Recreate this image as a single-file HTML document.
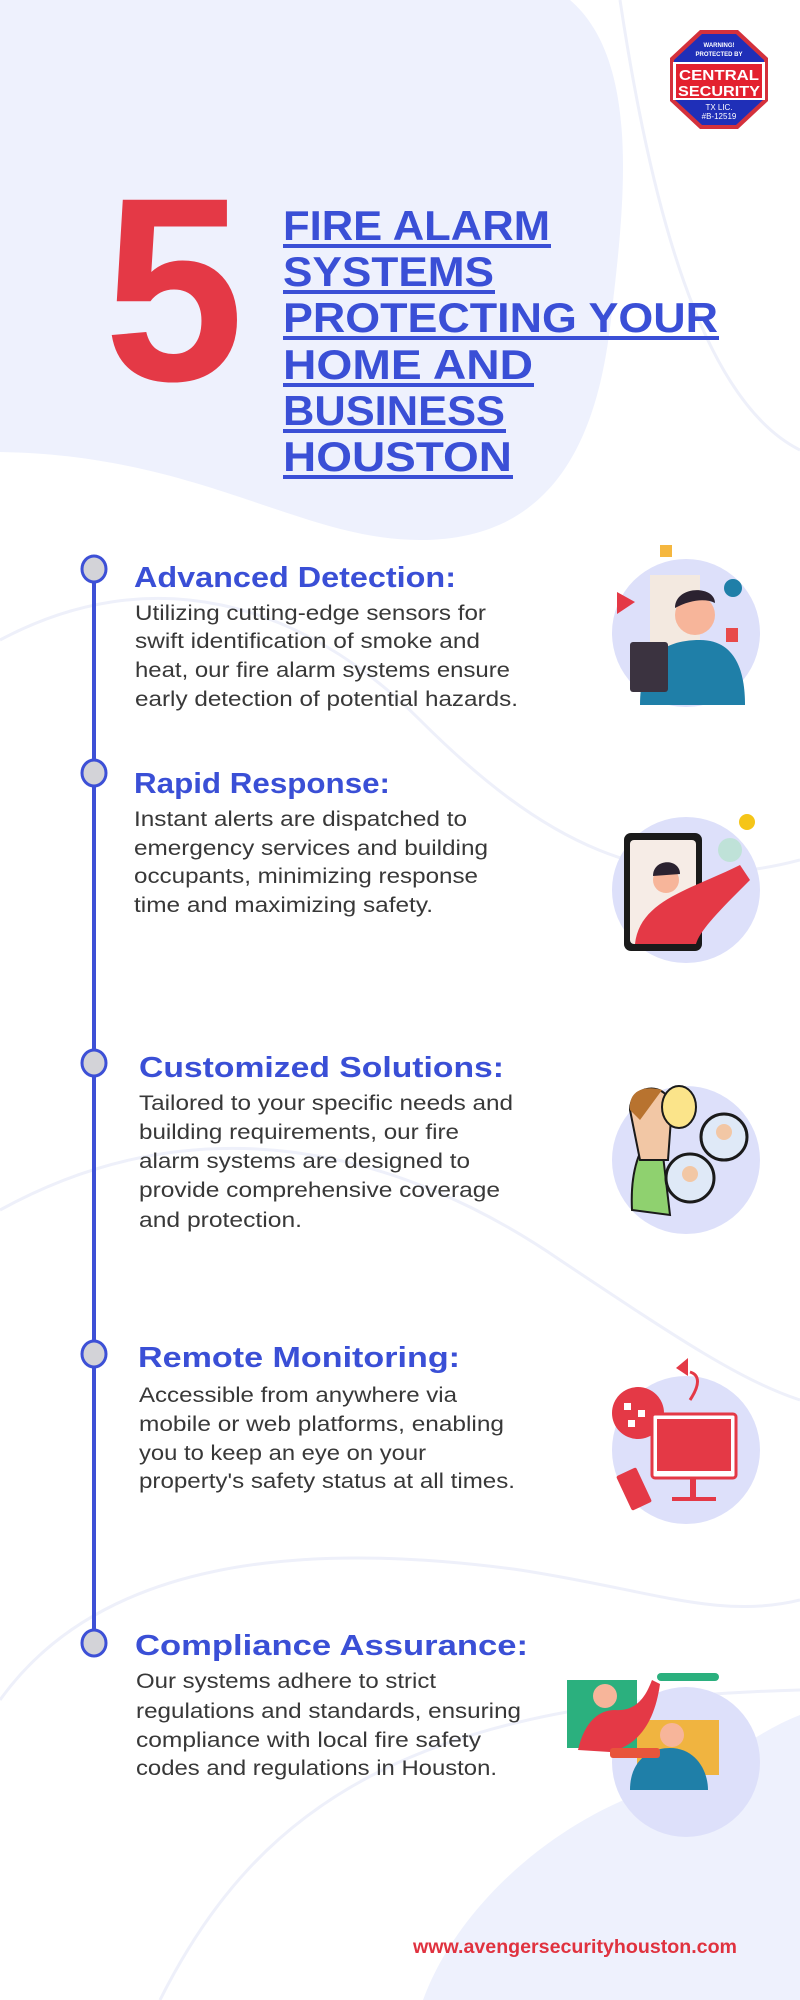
<!DOCTYPE html>
<html><head><meta charset="utf-8"><style>
html,body{margin:0;padding:0;background:#fff;width:800px;height:2000px;overflow:hidden}
svg{display:block}
.t{font-family:"Liberation Sans",sans-serif;font-weight:bold;fill:#3a4fd6}
.h{font-family:"Liberation Sans",sans-serif;font-weight:bold;fill:#3a4fd6;font-size:29px}
.b{font-family:"Liberation Sans",sans-serif;fill:#383838;font-size:21px}
</style></head><body>
<svg width="800" height="2000" viewBox="0 0 800 2000" xmlns="http://www.w3.org/2000/svg">
<!-- background blobs -->
<path d="M0,0 H570 C640,60 625,200 612,310 C600,430 560,540 420,540 C300,540 200,455 0,452 Z" fill="#eef1fd"/>
<path d="M423,2000 C460,1900 560,1820 650,1790 C720,1765 760,1730 800,1715 V2000 Z" fill="#eef1fd"/>
<g fill="none" stroke="#eef0fa" stroke-width="3">
<path d="M0,640 C150,560 300,600 420,720 C540,840 650,900 800,860"/>
<path d="M0,1210 C200,1100 400,1150 560,1260 C680,1340 740,1380 800,1400"/>
<path d="M0,1700 C100,1560 300,1540 520,1570 C650,1590 720,1620 800,1600"/>
<path d="M160,2000 C260,1800 420,1700 800,1690"/>
<path d="M620,0 C650,200 700,400 800,450"/>
</g>
<!-- logo -->
<polygon points="700,30 738,30 768,58 768,101 738,129 700,129 670,101 670,58" fill="#d4313c"/>
<polygon points="702,34 736,34 764,60 764,99 736,125 702,125 674,99 674,60" fill="#1f2fb8"/>
<rect x="673" y="62" width="92" height="38" fill="#fff"/>
<rect x="676" y="64" width="86" height="34" fill="#e3212f"/>
<text x="719" y="47" font-family="Liberation Sans" font-weight="bold" font-size="6" fill="#fff" text-anchor="middle">WARNING!</text>
<text x="719" y="56" font-family="Liberation Sans" font-weight="bold" font-size="6" fill="#fff" text-anchor="middle">PROTECTED BY</text>
<text x="719" y="80" font-family="Liberation Sans" font-weight="bold" font-size="15" fill="#fff" text-anchor="middle" textLength="80" lengthAdjust="spacingAndGlyphs">CENTRAL</text>
<text x="719" y="96" font-family="Liberation Sans" font-weight="bold" font-size="15" fill="#fff" text-anchor="middle" textLength="82" lengthAdjust="spacingAndGlyphs">SECURITY</text>
<text x="719" y="110" font-family="Liberation Sans" font-size="8" fill="#fff" text-anchor="middle">TX LIC.</text>
<text x="719" y="119" font-family="Liberation Sans" font-size="8" fill="#fff" text-anchor="middle">#B-12519</text>
<!-- big 5 -->
<text x="104" y="380" font-family="Liberation Sans" font-weight="bold" font-size="262" fill="#e43946" textLength="140" lengthAdjust="spacingAndGlyphs">5</text>
<!-- title -->
<g class="t" font-size="42">
<text x="283" y="240" textLength="267" lengthAdjust="spacingAndGlyphs">FIRE ALARM</text>
<text x="283" y="286" textLength="211" lengthAdjust="spacingAndGlyphs">SYSTEMS</text>
<text x="283" y="332" textLength="435" lengthAdjust="spacingAndGlyphs">PROTECTING YOUR</text>
<text x="283" y="379" textLength="250" lengthAdjust="spacingAndGlyphs">HOME AND</text>
<text x="283" y="425" textLength="222" lengthAdjust="spacingAndGlyphs">BUSINESS</text>
<text x="283" y="471" textLength="229" lengthAdjust="spacingAndGlyphs">HOUSTON</text>
</g>
<g fill="#3a4fd6">
<rect x="283" y="244" width="268" height="4"/>
<rect x="283" y="290" width="212" height="4"/>
<rect x="283" y="336" width="436" height="4"/>
<rect x="283" y="383" width="251" height="4"/>
<rect x="283" y="429" width="223" height="4"/>
<rect x="283" y="475" width="230" height="4"/>
</g>
<!-- timeline -->
<rect x="92" y="570" width="4" height="1073" fill="#3d50d6"/>
<g fill="#d3d3d8" stroke="#3d50d6" stroke-width="3">
<ellipse cx="94" cy="569" rx="12" ry="13"/>
<ellipse cx="94" cy="773" rx="12" ry="13"/>
<ellipse cx="94" cy="1063" rx="12" ry="13"/>
<ellipse cx="94" cy="1354" rx="12" ry="13"/>
<ellipse cx="94" cy="1643" rx="12" ry="13"/>
</g>
<!-- section 1 -->
<text class="h" x="134" y="587" textLength="322" lengthAdjust="spacingAndGlyphs">Advanced Detection:</text>
<text class="b" x="135" y="620" textLength="351" lengthAdjust="spacingAndGlyphs">Utilizing cutting-edge sensors for</text>
<text class="b" x="135" y="648" textLength="345" lengthAdjust="spacingAndGlyphs">swift identification of smoke and</text>
<text class="b" x="135" y="677" textLength="375" lengthAdjust="spacingAndGlyphs">heat, our fire alarm systems ensure</text>
<text class="b" x="135" y="706" textLength="383" lengthAdjust="spacingAndGlyphs">early detection of potential hazards.</text>
<!-- section 2 -->
<text class="h" x="134" y="793" textLength="256" lengthAdjust="spacingAndGlyphs">Rapid Response:</text>
<text class="b" x="134" y="826" textLength="333" lengthAdjust="spacingAndGlyphs">Instant alerts are dispatched to</text>
<text class="b" x="134" y="855" textLength="354" lengthAdjust="spacingAndGlyphs">emergency services and building</text>
<text class="b" x="134" y="883" textLength="344" lengthAdjust="spacingAndGlyphs">occupants, minimizing response</text>
<text class="b" x="134" y="912" textLength="299" lengthAdjust="spacingAndGlyphs">time and maximizing safety.</text>
<!-- section 3 -->
<text class="h" x="139" y="1077" textLength="365" lengthAdjust="spacingAndGlyphs">Customized Solutions:</text>
<text class="b" x="139" y="1110" textLength="374" lengthAdjust="spacingAndGlyphs">Tailored to your specific needs and</text>
<text class="b" x="139" y="1139" textLength="320" lengthAdjust="spacingAndGlyphs">building requirements, our fire</text>
<text class="b" x="139" y="1168" textLength="331" lengthAdjust="spacingAndGlyphs">alarm systems are designed to</text>
<text class="b" x="139" y="1197" textLength="361" lengthAdjust="spacingAndGlyphs">provide comprehensive coverage</text>
<text class="b" x="139" y="1227" textLength="163" lengthAdjust="spacingAndGlyphs">and protection.</text>
<!-- section 4 -->
<text class="h" x="138" y="1367" textLength="322" lengthAdjust="spacingAndGlyphs">Remote Monitoring:</text>
<text class="b" x="139" y="1402" textLength="318" lengthAdjust="spacingAndGlyphs">Accessible from anywhere via</text>
<text class="b" x="139" y="1431" textLength="365" lengthAdjust="spacingAndGlyphs">mobile or web platforms, enabling</text>
<text class="b" x="139" y="1460" textLength="287" lengthAdjust="spacingAndGlyphs">you to keep an eye on your</text>
<text class="b" x="139" y="1488" textLength="376" lengthAdjust="spacingAndGlyphs">property's safety status at all times.</text>
<!-- section 5 -->
<text class="h" x="135" y="1655" textLength="393" lengthAdjust="spacingAndGlyphs">Compliance Assurance:</text>
<text class="b" x="136" y="1688" textLength="300" lengthAdjust="spacingAndGlyphs">Our systems adhere to strict</text>
<text class="b" x="136" y="1718" textLength="385" lengthAdjust="spacingAndGlyphs">regulations and standards, ensuring</text>
<text class="b" x="136" y="1747" textLength="345" lengthAdjust="spacingAndGlyphs">compliance with local fire safety</text>
<text class="b" x="136" y="1775" textLength="361" lengthAdjust="spacingAndGlyphs">codes and regulations in Houston.</text>
<!-- URL -->
<text x="413" y="1953" font-family="Liberation Sans" font-weight="bold" font-size="19" fill="#e0323f" textLength="324" lengthAdjust="spacingAndGlyphs">www.avengersecurityhouston.com</text>

<!-- icon 1 -->
<ellipse cx="686" cy="633" rx="74" ry="74" fill="#dde0fa"/>
<rect x="650" y="575" width="50" height="80" fill="#f3e9e0"/>
<rect x="660" y="545" width="12" height="12" fill="#f5b73f"/>
<circle cx="733" cy="588" r="9" fill="#1f7fa8"/>
<rect x="726" y="628" width="12" height="14" fill="#e84a4a"/>
<path d="M635,602 l-18,-10 v22 z" fill="#e43946"/>
<path d="M640,705 C640,660 660,640 700,640 C740,640 745,680 745,705 Z" fill="#1f7fa8"/>
<circle cx="695" cy="615" r="20" fill="#f7b59a"/>
<path d="M675,608 C675,585 715,585 715,603 C705,598 690,600 675,608 Z" fill="#2b2230"/>
<rect x="630" y="642" width="38" height="50" rx="3" fill="#3b3340"/>
<!-- icon 2 -->
<ellipse cx="686" cy="890" rx="74" ry="73" fill="#dde0fa"/>
<rect x="624" y="833" width="78" height="118" rx="7" fill="#1a1a1a"/>
<rect x="630" y="840" width="66" height="104" rx="4" fill="#f6ece6"/>
<path d="M635,944 C640,900 690,890 740,865 L750,880 C720,910 700,930 696,944 Z" fill="#e43946"/>
<circle cx="666" cy="880" r="13" fill="#f7b59a"/>
<path d="M653,876 C653,858 680,858 680,874 Z" fill="#2b2230"/>
<circle cx="747" cy="822" r="8" fill="#f5c518"/>
<circle cx="730" cy="850" r="12" fill="#bfe2d8"/>
<!-- icon 3 -->
<ellipse cx="686" cy="1160" rx="74" ry="74" fill="#dde0fa"/>
<path d="M632,1210 C630,1170 640,1140 660,1130 L670,1215 Z" fill="#8fd16f" stroke="#1a1a1a" stroke-width="2"/>
<path d="M630,1110 C630,1085 665,1080 672,1105 L668,1160 L640,1160 Z" fill="#f2c7a5" stroke="#1a1a1a" stroke-width="2"/>
<path d="M630,1110 C628,1090 645,1085 662,1090 L640,1120 Z" fill="#b8732f"/>
<ellipse cx="679" cy="1107" rx="17" ry="21" fill="#fbe48a" stroke="#1a1a1a" stroke-width="2"/>
<circle cx="724" cy="1137" r="23" fill="#dfe9f7" stroke="#1a1a1a" stroke-width="3"/>
<circle cx="690" cy="1178" r="24" fill="#dfe9f7" stroke="#1a1a1a" stroke-width="3"/>
<circle cx="724" cy="1132" r="8" fill="#f2c7a5"/>
<circle cx="690" cy="1174" r="8" fill="#f2c7a5"/>
<!-- icon 4 -->
<ellipse cx="686" cy="1450" rx="74" ry="74" fill="#dde0fa"/>
<circle cx="638" cy="1413" r="26" fill="#e43946"/>
<g fill="#fff"><rect x="624" y="1403" width="7" height="7"/><rect x="638" y="1410" width="7" height="7"/><rect x="628" y="1420" width="7" height="7"/></g>
<rect x="652" y="1414" width="84" height="64" rx="3" fill="#fff" stroke="#e43946" stroke-width="3"/>
<rect x="657" y="1419" width="74" height="52" fill="#e43946"/>
<rect x="690" y="1478" width="6" height="20" fill="#e43946"/>
<rect x="672" y="1497" width="44" height="4" fill="#e43946"/>
<rect x="623" y="1470" width="22" height="38" rx="2" transform="rotate(-25 634 1489)" fill="#e43946"/>
<path d="M690,1400 C700,1385 700,1375 690,1372" fill="none" stroke="#e43946" stroke-width="3"/>
<path d="M676,1368 l12,-10 v18 z" fill="#e43946"/>
<!-- icon 5 -->
<ellipse cx="686" cy="1762" rx="74" ry="75" fill="#dde0fa"/>
<rect x="567" y="1680" width="70" height="68" fill="#2bb07e"/>
<rect x="637" y="1720" width="82" height="55" fill="#f0b440"/>
<rect x="657" y="1673" width="62" height="8" rx="4" fill="#2bb07e"/>
<path d="M578,1750 C585,1720 600,1710 615,1710 C640,1712 648,1690 652,1680 L660,1684 C655,1720 640,1745 610,1752 Z" fill="#e43946"/>
<circle cx="605" cy="1696" r="12" fill="#f7b59a"/>
<path d="M630,1790 C630,1760 650,1748 670,1748 C695,1748 708,1770 708,1790 Z" fill="#1f7fa8"/>
<circle cx="672" cy="1735" r="12" fill="#f7b59a"/>
<rect x="610" y="1748" width="50" height="10" rx="3" fill="#e8553b"/>
</svg>
</body></html>
